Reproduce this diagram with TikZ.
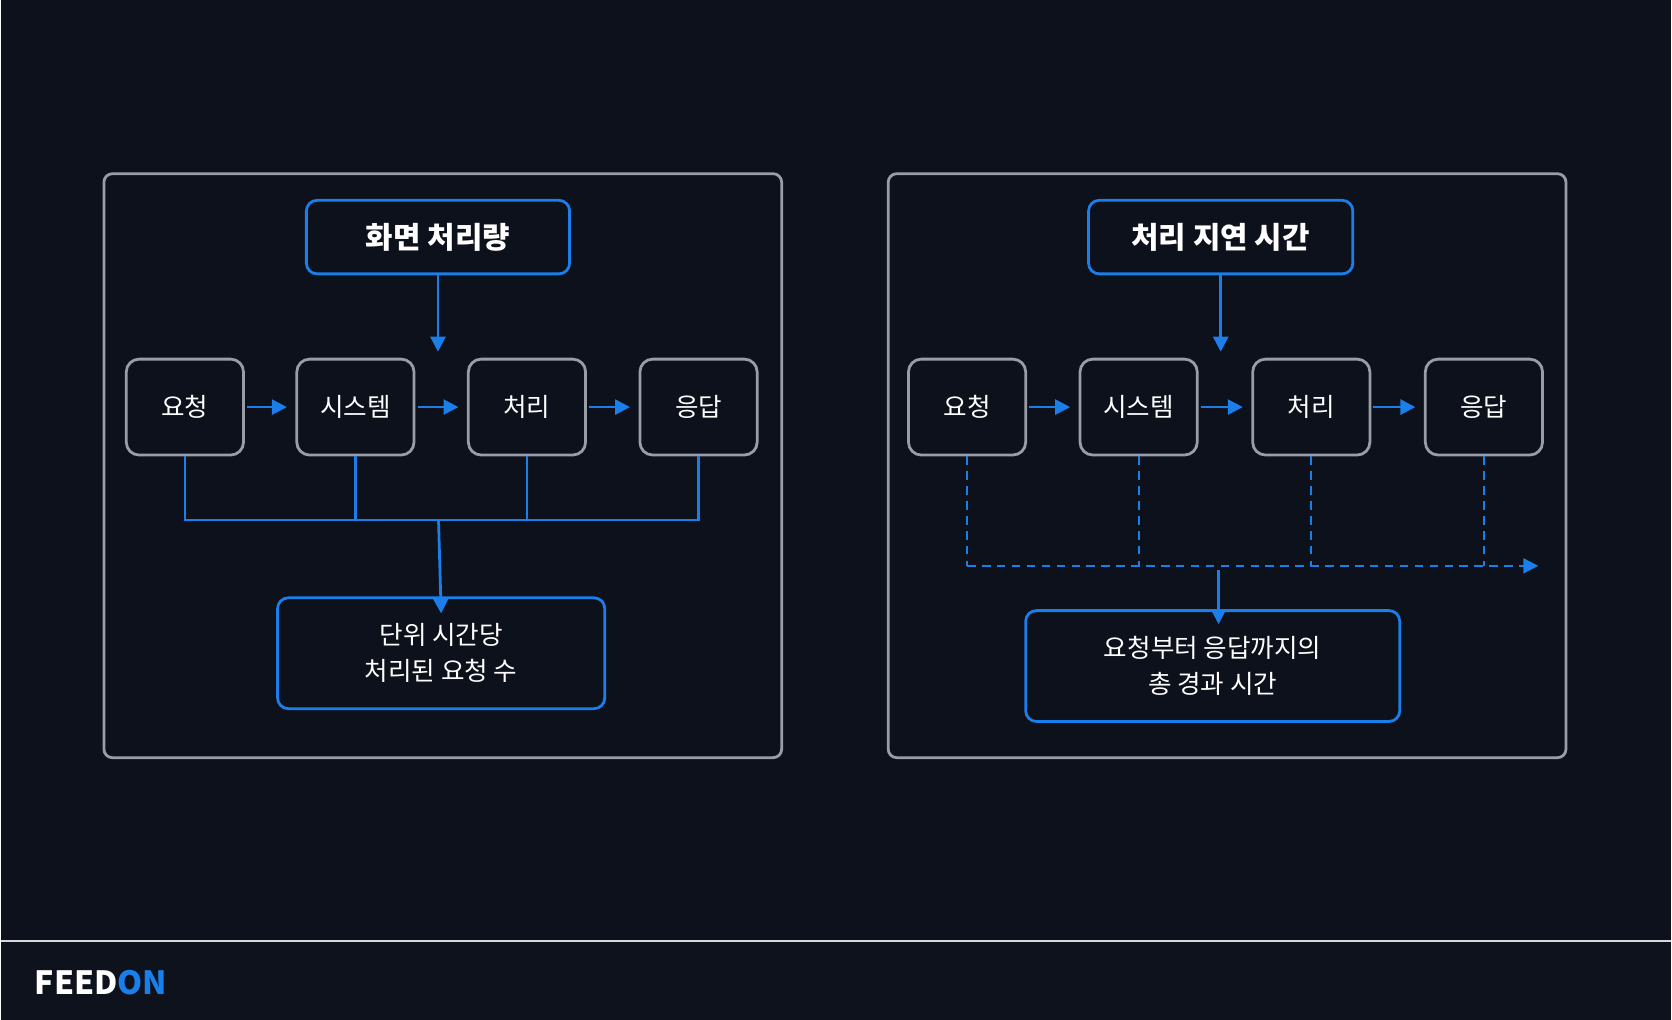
\documentclass[tikz,border=0pt]{standalone}
\usepackage{fontspec}
\setmainfont{Noto Sans CJK KR}
\usetikzlibrary{arrows.meta}
\definecolor{bg}{HTML}{0D111B}
\definecolor{foot}{HTML}{0E121C}
\definecolor{gb}{HTML}{9A9DA5}
\definecolor{bl}{HTML}{1A7FEA}
\begin{document}
\begin{tikzpicture}[x=0.5pt,y=-0.5pt,
 panel/.style={draw=gb,line width=1.3pt,rounded corners=4pt},
 sbox/.style={draw=gb,line width=1.3pt,rounded corners=6pt,minimum width=55pt,minimum height=45pt,text=white,font=\fontsize{12}{14}\selectfont,inner sep=0pt},
 tbox/.style={draw=bl,line width=1.3pt,rounded corners=5pt,text=white,font=\fontsize{14}{17}\selectfont\bfseries,inner sep=0pt},
 rbox/.style={draw=bl,line width=1.3pt,rounded corners=5pt,text=white,font=\fontsize{12}{17}\selectfont,align=center,inner sep=0pt},
 ar/.style={draw=bl,line width=1.3pt,-{Triangle[length=7pt,width=7pt]}},
 ln/.style={draw=bl,line width=1.3pt},
 dl/.style={draw=bl,line width=1pt,dash pattern=on 4pt off 3pt}]
\fill[bg] (0,0) rectangle (1568,957);
\fill[foot] (0,883) rectangle (1568,957);
\draw[gb!40,line width=0.5pt] (0,883) -- (1568,883);
\node[anchor=west,font=\fontsize{15}{18}\selectfont\bfseries] (logo) at (25,922) {\textcolor{white}{FEED}\textcolor{bl}{ON}};
% left
\draw[panel] (97,163) rectangle (733,711);
\node[tbox,minimum width=123.5pt,minimum height=34.5pt] (t1) at (410.5,222.5) {화면 처리량};
\coordinate (t1e) at (410.5,330);
\node[sbox] (a1) at (173,382) {요청};
\node[sbox] (a2) at (333,382) {시스템};
\node[sbox] (a3) at (494,382) {처리};
\node[sbox] (a4) at (655,382) {응답};
\node[rbox,minimum width=153.5pt,minimum height=52pt] (r1) at (413.5,613) {단위 시간당\\처리된 요청 수};
\draw[ar] (t1) -- (t1e);
\draw[ar] (a1.east)++(2,0) -- ([xshift=-4]a2.west);
\draw[ar] (a2.east)++(2,0) -- ([xshift=-4]a3.west);
\draw[ar] (a3.east)++(2,0) -- ([xshift=-4]a4.west);
\coordinate (j1) at (411,488);
\draw[ln] (a1.south) |- (j1) -| (a4.south);
\draw[ln] (a2.south) -- (a2.south |- j1);
\draw[ln] (a3.south) -- (a3.south |- j1);
\draw[ar] (j1) -- ([yshift=-8]r1.north);
% right
\draw[panel] (833,163) rectangle (1469,711);
\node[tbox,minimum width=124pt,minimum height=34.5pt] (t2) at (1145,222.5) {처리 지연 시간};
\coordinate (t2e) at (1145,330);
\node[sbox] (b1) at (907,382) {요청};
\node[sbox] (b2) at (1068,382) {시스템};
\node[sbox] (b3) at (1230,382) {처리};
\node[sbox] (b4) at (1392,382) {응답};
\node[rbox,minimum width=175.5pt,minimum height=52pt] (r2) at (1137.5,625) {요청부터 응답까지의\\총 경과 시간};
\draw[ar] (t2) -- (t2e);
\draw[ar] (b1.east)++(2,0) -- ([xshift=-4]b2.west);
\draw[ar] (b2.east)++(2,0) -- ([xshift=-4]b3.west);
\draw[ar] (b3.east)++(2,0) -- ([xshift=-4]b4.west);
\coordinate (j2) at (907,531);
\coordinate (e2) at (1443,531);
\draw[dl] (b1.south) -- (j2);
\draw[dl] (b2.south) -- (b2.south |- j2);
\draw[dl] (b3.south) -- (b3.south |- j2);
\draw[dl] (b4.south) -- (b4.south |- j2);
\draw[dl,-{Triangle[length=7pt,width=7pt]}] (j2) -- (e2);
\coordinate (k2) at (1143,535);
\draw[ar] (k2) -- ([yshift=-7]r2.north -| k2);
\end{tikzpicture}
\end{document}
